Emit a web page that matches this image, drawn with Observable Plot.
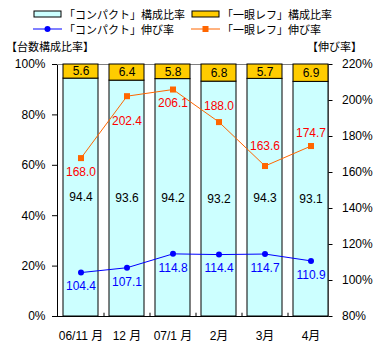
<!DOCTYPE html>
<html><head><meta charset="utf-8">
<script src="https://cdn.jsdelivr.net/npm/d3@7"></script>
<script src="https://cdn.jsdelivr.net/npm/@observablehq/plot@0.6"></script>
<style>
body{margin:0;background:#fff;}
#hdr{position:relative;width:375px;height:52px;font-family:"Noto Sans CJK JP","Noto Sans",sans-serif;font-size:11px;color:#000;}
#hdr .it{position:absolute;white-space:nowrap;line-height:14px;}
#hdr svg{position:absolute;}
</style>
</head><body>
<div id="hdr"></div>
<div id="chart"></div>
<script>
const months = ["06/11 月", "12 月", "07/1 月", "2月", "3月", "4月"];
const compactShare = [94.4, 93.6, 94.2, 93.2, 94.3, 93.1];
const slrShare = [5.6, 6.4, 5.8, 6.8, 5.7, 6.9];
const compactGrowth = [104.4, 107.1, 114.8, 114.4, 114.7, 110.9];
const slrGrowth = [168.0, 202.4, 206.1, 188.0, 163.6, 174.7];
const shareTicks = [0, 20, 40, 60, 80, 100];
const growthTicks = [80, 100, 120, 140, 160, 180, 200, 220];
const seriesNames = ["「コンパクト」構成比率", "「一眼レフ」構成比率", "「コンパクト」伸び率", "「一眼レフ」伸び率"];
const leftTitle = "【台数構成比率】";
const rightTitle = "【伸び率】";

const C_CYAN = "#ccffff", C_YEL = "#ffcc00", C_BLUE = "#0000ff", C_ORG = "#ff6600", C_RED = "#ff0000";

// header (legend + axis titles)
const hdr = document.getElementById("hdr");
function legendItem(x, y, kind, label) {
  const s = document.createElementNS("http://www.w3.org/2000/svg", "svg");
  s.setAttribute("width", 30); s.setAttribute("height", 10);
  s.style.left = (x - 1) + "px"; s.style.top = (y - 5) + "px";
  let inner = "";
  if (kind === "cyan" || kind === "yel") {
    inner = `<rect x="1" y="2" width="27" height="6" fill="${kind === "cyan" ? C_CYAN : C_YEL}" stroke="#000"/>`;
  } else if (kind === "blue") {
    inner = `<line x1="0" x2="29" y1="5" y2="5" stroke="${C_BLUE}"/><circle cx="14.5" cy="5" r="3" fill="${C_BLUE}"/>`;
  } else {
    inner = `<line x1="0" x2="29" y1="5" y2="5" stroke="${C_ORG}"/><rect x="11.5" y="2" width="6" height="6" fill="${C_ORG}"/>`;
  }
  s.innerHTML = inner;
  hdr.appendChild(s);
  const t = document.createElement("div");
  t.className = "it"; t.textContent = label;
  t.style.left = (x + 30) + "px"; t.style.top = (y - 7) + "px";
  hdr.appendChild(t);
}
legendItem(34, 14, "cyan", seriesNames[0]);
legendItem(192, 14, "yel", seriesNames[1]);
legendItem(34, 29, "blue", seriesNames[2]);
legendItem(192, 29, "org", seriesNames[3]);
const lt = document.createElement("div");
lt.className = "it"; lt.textContent = leftTitle; lt.style.left = "6px"; lt.style.top = "39px";
hdr.appendChild(lt);
const rt = document.createElement("div");
rt.className = "it"; rt.textContent = rightTitle; rt.style.right = "13px"; rt.style.top = "39px";
hdr.appendChild(rt);

// chart
const toY = g => (g - 80) / 140 * 100;
const stackRows = months.flatMap((m, i) => [
  {month: m, series: "compact", value: compactShare[i]},
  {month: m, series: "slr", value: slrShare[i]}
]);
const idx = months.map((_, i) => i);
const slrLabelDy = [14, 25, 14, -16, -20, -13];

const chart = Plot.plot({
  width: 375,
  height: 297,
  marginLeft: 57,
  marginRight: 47.5,
  marginTop: 12,
  marginBottom: 33,
  style: {fontFamily: "'Liberation Sans', 'Noto Sans CJK JP', sans-serif", fontSize: "12px", background: "#fff", overflow: "visible"},
  x: {domain: months, paddingInner: 0.24, paddingOuter: 0.06, align: 1},
  y: {domain: [0, 100]},
  color: {domain: ["compact", "slr"], range: [C_CYAN, C_YEL]},
  marks: [
    Plot.frame({stroke: "#000"}),
    Plot.ruleY([100], {stroke: "#808080"}),
    Plot.barY(stackRows, {x: "month", y: "value", z: "series", fill: "series", stroke: "#000", strokeWidth: 1}),
    Plot.text(stackRows, Plot.stackY({x: "month", y: "value", z: "series", text: d => d.value.toFixed(1), fill: "#000"})),
    Plot.ruleX(months.slice(1), {x: d => d, y1: 0, y2: 1.3, dx: -23, stroke: "#000"}),
    Plot.axisY(shareTicks, {anchor: "left", tickSize: 5, tickPadding: 7, tickFormat: d => d + "%", label: null}),
    Plot.axisY(growthTicks.map(toY), {anchor: "right", tickSize: 4, tickPadding: 10, tickFormat: d => Math.round(d * 1.4 + 80) + "%", label: null}),
    Plot.axisX({tickSize: 0, tickPadding: 15, label: null}),
    Plot.line(idx, {x: i => months[i], y: i => toY(slrGrowth[i]), stroke: C_ORG, strokeWidth: 1}),
    Plot.dot(idx, {x: i => months[i], y: i => toY(slrGrowth[i]), symbol: "square", r: 3.4, fill: C_ORG, stroke: "none"}),
    Plot.line(idx, {x: i => months[i], y: i => toY(compactGrowth[i]), stroke: C_BLUE, strokeWidth: 1}),
    Plot.dot(idx, {x: i => months[i], y: i => toY(compactGrowth[i]), r: 3, fill: C_BLUE, stroke: "none"}),
    Plot.text(idx, {x: i => months[i], y: i => toY(compactGrowth[i]), text: i => compactGrowth[i].toFixed(1), fill: C_BLUE, dy: 14}),
    ...slrLabelDy.map((dy, i) => Plot.text([i], {x: j => months[j], y: j => toY(slrGrowth[j]), text: j => slrGrowth[j].toFixed(1), fill: C_RED, dy}))
  ]
});
document.getElementById("chart").appendChild(chart);
</script>
</body></html>
